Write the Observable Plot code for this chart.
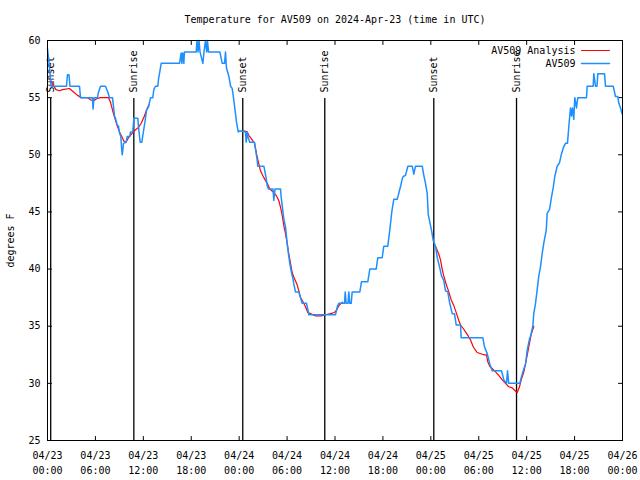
<!DOCTYPE html>
<html><head><meta charset="utf-8">
<script src="https://cdn.jsdelivr.net/npm/d3@7"></script>
<script src="https://cdn.jsdelivr.net/npm/@observablehq/plot@0.6"></script>
<style>html,body{margin:0;padding:0;background:#fff;}</style>
</head><body><div id="chart"></div>
<script>
// ---- data (hours after 2024-04-23 00:00 UTC, degrees F) ----
const titleText = "Temperature for AV509 on 2024-Apr-23 (time in UTC)";
const yLabel = "degrees F";
const startDate = "2024-04-23T00:00:00Z";

const obsHour = [
  0.00,0.06,0.19,0.31,0.44,2.38,2.50,2.69,2.82,4.01,4.13,5.63,5.70,5.82,6.26,6.39,6.64,7.26,7.55,7.76,
  8.14,8.39,8.51,8.73,8.89,9.02,9.18,9.30,9.35,9.43,9.52,9.85,9.98,10.31,10.39,10.68,10.81,11.31,11.39,11.52,
  11.61,11.81,11.98,12.23,12.40,12.65,12.90,13.19,13.31,13.52,13.81,13.90,14.02,14.24,16.53,16.74,16.82,16.94,17.07,17.15,
  18.62,18.72,18.85,18.97,19.10,19.45,19.60,19.78,19.94,20.03,20.16,21.58,21.88,22.17,22.29,22.41,22.70,22.92,23.13,23.25,
  23.38,23.54,23.66,23.88,24.08,24.79,24.88,25.01,25.13,25.33,25.92,26.05,26.26,26.33,27.09,27.21,27.39,27.51,27.67,28.24,
  28.34,28.49,29.18,29.26,29.59,29.80,30.02,30.14,30.34,30.55,30.72,30.84,31.05,31.47,31.68,31.89,32.43,32.59,32.72,36.06,
  36.28,36.48,37.19,37.28,37.40,37.63,37.73,37.85,38.03,38.15,39.11,39.32,40.11,40.36,41.16,41.36,41.91,42.11,42.61,42.86,
  43.11,43.36,43.79,44.08,44.20,44.42,44.54,44.83,45.12,45.67,45.87,46.08,46.92,47.12,47.33,47.55,47.67,47.87,48.08,48.30,
  48.59,48.80,49.09,49.34,49.62,49.84,50.12,50.34,50.68,50.96,51.18,51.72,51.80,54.51,54.72,55.06,55.38,55.68,56.85,57.14,
  57.48,57.60,57.76,59.14,59.32,59.57,59.86,60.07,60.36,60.48,60.77,60.89,61.11,61.32,61.52,61.73,61.95,62.15,62.45,62.57,
  62.86,63.11,63.32,63.52,63.82,64.11,64.33,64.58,64.86,65.11,65.28,65.49,65.62,65.74,65.90,66.03,66.24,66.40,67.49,67.58,
  68.33,68.41,68.62,68.81,68.91,69.75,69.87,70.84,71.12,71.41,71.54,71.75,71.94
];
const obsTemp = [
  59.3,58.9,58.1,57.2,56.0,56.0,57.0,57.0,56.0,56.0,55.0,55.0,54.0,55.0,55.0,55.5,56.0,56.0,55.5,55.0,
  55.0,53.4,53.2,52.6,52.5,51.9,51.6,50.4,50.0,50.4,51.0,51.1,51.6,51.6,52.0,52.0,53.2,53.2,52.5,51.6,
  51.1,51.1,51.9,53.0,53.9,54.2,55.0,55.0,55.7,56.0,56.0,56.6,57.1,58.0,58.0,58.9,58.0,58.9,58.0,59.0,
  59.0,60.0,59.0,60.0,59.0,58.0,59.0,60.0,59.0,60.0,59.0,59.0,58.0,58.0,59.0,57.6,56.9,56.0,55.8,55.2,
  54.5,53.6,52.9,52.0,52.1,52.0,51.1,52.0,51.5,51.1,51.1,50.5,49.5,49.0,49.0,48.6,47.9,47.3,47.0,47.0,
  46.0,47.0,47.0,46.3,44.4,43.7,42.2,41.5,40.5,39.7,39.2,38.7,38.0,38.0,37.5,37.0,37.0,36.5,36.0,36.0,
  36.7,37.0,37.0,38.0,37.0,37.0,38.0,37.0,37.0,38.0,38.0,38.9,38.9,40.0,40.0,41.0,41.0,42.0,42.0,43.4,
  45.0,46.1,46.1,46.9,47.2,47.9,48.1,48.2,49.0,49.0,48.3,49.0,49.0,48.2,47.5,46.6,44.8,44.1,43.4,42.5,
  42.0,41.0,40.2,39.4,39.0,38.1,38.0,37.1,36.1,36.1,35.1,35.1,34.0,34.0,33.2,32.6,31.7,31.1,31.1,30.3,
  30.0,31.1,30.0,30.0,30.5,31.1,31.7,32.9,33.9,34.1,35.0,36.1,37.0,38.2,39.4,40.2,41.4,42.3,43.4,44.9,
  45.2,46.3,47.1,48.1,49.0,49.3,50.0,50.6,51.0,51.0,52.5,54.1,53.4,54.1,53.1,55.0,54.1,55.0,55.0,56.0,
  56.0,57.1,56.0,56.0,57.1,57.1,56.0,56.0,55.1,55.1,54.5,54.1,53.6
];

// analysis series; null marks a gap between the three analysis runs
const anaHour = [
  0.31,0.63,1.06,1.50,1.88,2.75,3.26,3.76,4.26,5.01,5.45,5.76,6.14,6.64,7.64,7.89,8.14,8.39,8.70,9.02,
  9.30,9.55,9.83,10.14,10.52,10.89,11.39,11.77,12.08,12.40,12.71,
  13.0,
  24.58,25.01,25.21,25.63,25.92,26.17,26.46,26.67,27.09,27.51,27.84,28.34,28.68,28.96,29.18,29.39,29.59,29.80,
  30.02,30.22,30.43,30.64,30.84,31.27,31.47,31.68,32.02,32.31,32.59,32.93,33.56,34.27,34.81,35.44,35.94,36.19,
  36.48,36.78,36.94,
  37.0,
  48.65,49.00,49.21,49.42,49.62,49.96,50.25,50.55,50.88,51.22,51.50,51.72,52.05,52.34,52.63,52.97,53.31,53.59,
  53.80,54.63,54.97,55.13,55.38,55.68,56.10,56.51,56.94,57.35,57.76,58.19,58.48,58.82,59.10,59.32,59.65,59.94,
  60.19,60.57,60.90
];
const anaTemp = [
  56.6,56.2,55.7,55.6,55.7,55.8,55.5,55.2,55.0,55.0,54.8,54.7,54.9,55.0,55.0,54.6,53.9,53.3,52.6,52.0,
  51.6,51.2,51.1,51.5,51.8,52.1,52.4,52.8,53.3,53.9,54.4,
  null,
  52.1,52.0,51.7,51.3,51.0,50.1,49.2,48.6,48.0,47.5,47.0,46.7,46.4,46.0,45.4,44.7,43.8,43.1,
  42.2,41.3,40.5,39.7,39.3,38.6,38.1,37.5,37.1,36.7,36.2,36.1,35.9,35.9,36.0,36.1,36.2,36.4,
  36.8,37.0,37.1,
  null,
  41.9,41.3,40.8,40.0,39.4,38.6,38.0,37.3,36.8,36.1,35.5,35.1,34.8,34.5,34.2,33.8,33.2,32.9,
  32.7,32.5,32.5,31.9,31.5,31.3,31.0,30.7,30.3,30.0,29.7,29.6,29.4,29.2,29.7,30.3,31.0,32.0,
  32.9,34.3,35.0
];

const eventHour = [0.40, 10.81, 24.45, 34.72, 48.37, 58.73];
const eventLabel = ["Sunset", "Sunrise", "Sunset", "Sunrise", "Sunset", "Sunrise"];

const yTicks = [25, 30, 35, 40, 45, 50, 55, 60];
const xTickHour = [0, 6, 12, 18, 24, 30, 36, 42, 48, 54, 60, 66, 72];

const seriesNames = ["AV509 Analysis", "AV509"];
const seriesColors = ["#ff0000", "#1e8fff"];

// ---- build ----
const t0 = new Date(startDate).getTime();
const toDate = h => new Date(t0 + h * 3600e3);
const obs = obsHour.map((h, i) => ({t: toDate(h), v: obsTemp[i]}));
const ana = anaHour.map((h, i) => ({t: toDate(h), v: anaTemp[i]}));
const events = eventHour.map((h, i) => ({t: toDate(h), label: eventLabel[i]}));
const xTicks = xTickHour.map(toDate);

const seg = (dx, dy) => ({draw(ctx, l) { ctx.moveTo(0, 0); ctx.lineTo(dx * l, dy * l); }});
const fmt = d3.utcFormat("%m/%d\n%H:%M");

const legendMarks = seriesNames.flatMap((name, i) => [
  Plot.text([name], {text: d => d, frameAnchor: "top-right", dx: -47, dy: 10 + 13 * i, textAnchor: "end", lineAnchor: "middle", fill: "#000"}),
  Plot.vector([name], {frameAnchor: "top-right", dx: -41, dy: 10 + 13 * i, length: 28, anchor: "start", shape: seg(1, 0), stroke: seriesColors[i], strokeWidth: i === 0 ? 1.2 : 1.5})
]);

const chart = Plot.plot({
  width: 640,
  height: 480,
  marginLeft: 47,
  marginRight: 18,
  marginTop: 40,
  marginBottom: 40,
  style: {fontFamily: "'DejaVu Sans Mono', monospace", fontSize: "10px", background: "#fff", color: "#000"},
  x: {type: "utc", domain: [toDate(xTickHour[0]), toDate(xTickHour[xTickHour.length - 1])], axis: null},
  y: {domain: [yTicks[0], yTicks[yTicks.length - 1]], axis: null},
  marks: [
    Plot.axisX({ticks: xTicks, tickSize: 0, tickPadding: 8, tickFormat: fmt, lineHeight: 1.5, label: null}),
    Plot.axisY({ticks: yTicks, tickSize: 0, tickPadding: 7, label: null}),
    Plot.vector(xTicks, {x: d => d, frameAnchor: "bottom", length: 4, anchor: "start", shape: seg(0, -1), strokeWidth: 1}),
    Plot.vector(xTicks, {x: d => d, frameAnchor: "top", length: 4, anchor: "start", shape: seg(0, 1), strokeWidth: 1}),
    Plot.vector(yTicks, {y: d => d, frameAnchor: "left", length: 4, anchor: "start", shape: seg(1, 0), strokeWidth: 1}),
    Plot.vector(yTicks, {y: d => d, frameAnchor: "right", length: 4, anchor: "start", shape: seg(-1, 0), strokeWidth: 1}),
    Plot.ruleX(events, {x: "t", insetTop: 58, stroke: "#000", strokeWidth: 1.3}),
    Plot.text(events, {x: "t", text: "label", frameAnchor: "top", rotate: -90, textAnchor: "start", lineAnchor: "middle", dy: 52, fill: "#000"}),
    Plot.line(ana, {x: "t", y: "v", stroke: seriesColors[0], strokeWidth: 1.2}),
    Plot.line(obs, {x: "t", y: "v", stroke: seriesColors[1], strokeWidth: 1.5}),
    ...legendMarks,
    Plot.frame({stroke: "#000", strokeWidth: 1}),
    Plot.text([titleText], {text: d => d, frameAnchor: "top", dy: -21, lineAnchor: "middle", fill: "#000"}),
    Plot.text([yLabel], {text: d => d, frameAnchor: "left", dx: -37, rotate: -90, textAnchor: "middle", lineAnchor: "middle", fill: "#000"})
  ]
});
document.getElementById("chart").append(chart);
</script>
</body></html>
